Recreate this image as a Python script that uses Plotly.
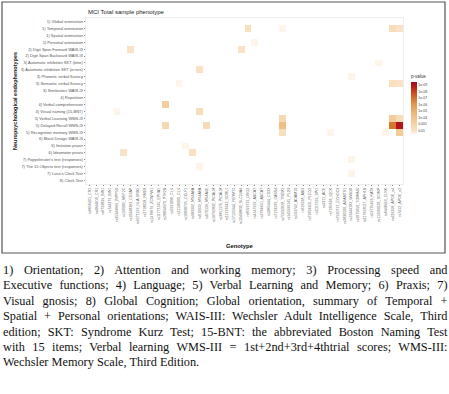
import math
import numpy as np
import plotly.graph_objects as go

# ---------------- data ----------------
phenotypes = [
    "1) Global orientation", "1) Temporal orientation", "1) Spatial orientation",
    "1) Personal orientation", "2) Digit Span Forward WAIS-III", "2) Digit Span Backward WAIS-III",
    "3) Automatic inhibition SKT (time)", "3) Automatic inhibition SKT (errors)",
    "3) Phonetic verbal fluency", "3) Semantic verbal fluency", "3) Similarities WAIS-III",
    "4) Repetition", "4) Verbal comprehension", "4) Visual naming (15-BNT)",
    "5) Verbal Learning WMS-III", "5) Delayed Recall WMS-III", "5) Recognition memory WMS-III",
    "6) Block Design WAIS-III", "6) Imitation praxis", "6) Ideomotor praxis",
    "7) Poppelreuter's test (responses)", "7) The 15 Objects test (responses)",
    "7) Luria's Clock Test", "8) Clock Test",
]

genotypes = [
    "rs6656401_CR1", "rs4844610_CR1", "rs6733839_BIN1", "rs744373_BIN1",
    "rs35349669_INPP5D", "rs190982_MEF2C", "rs10948363_CD2AP", "rs9271192_HLA-DRB5",
    "rs2718058_NME8", "rs1476679_ZCWPW1", "rs11771145_EPHA1", "rs28834970_PTK2B",
    "rs9331896_CLU", "rs11136000_CLU", "rs10838725_CELF1", "rs983392_MS4A6A",
    "rs610932_MS4A6A", "rs670139_MS4A4E", "rs10792832_PICALM", "rs3851179_PICALM",
    "rs11218343_SORL1", "rs17125944_FERMT2", "rs10498633_SLC24A4", "rs8093731_DSG2",
    "rs4147929_ABCA7", "rs3764650_ABCA7", "rs3865444_CD33", "rs7274581_CASS4",
    "rs75932628_TREM2", "rs145999145_PLD3", "rs593742_ADAM10", "rs616338_ABI3",
    "rs72824905_PLCG2", "rs1057233_SPI1", "rs4311_ACE", "rs7185636_IQCK",
    "rs7920721_ECHDC3", "rs2830500_ADAMTS1", "rs12444183_WWOX", "rs2075650_TOMM40",
    "rs117618017_APH1B", "rs59735493_KAT8", "rs113260531_SCIMP", "rs6448453_CLNK",
    "rs429358_APOE_e4", "rs7412_APOE_e2",
]

# significant associations: phenotype row index, genotype column index, p-value
sig_row = [1, 1, 1, 1, 3, 4, 4, 6, 7, 8, 9, 9, 9, 12, 13, 13, 14, 14, 14,
           15, 15, 15, 15, 15, 16, 16, 16, 16, 18, 19, 19, 20, 21, 22]
sig_col = [23, 28, 44, 45, 24, 6, 22, 42, 16, 38, 13, 44, 45, 11, 4, 16, 28, 44, 45,
           11, 17, 28, 44, 45, 28, 35, 43, 45, 14, 5, 15, 38, 16, 38]
sig_p = [0.006, 0.04, 0.004, 0.008, 0.04, 0.008, 0.008, 0.03, 0.007, 0.04, 0.04, 0.005, 0.009,
         4e-4, 0.04, 0.004, 0.002, 3e-4, 0.003,
         0.002, 0.003, 5e-5, 1e-7, 1e-9, 0.005, 0.04, 0.03, 3e-4, 0.03, 0.008, 0.006,
         0.04, 0.03, 0.04]

legend_exp = [2, 3, 4, 5, 6, 7, 8, 9]
legend_labels = ["0.01", "0.001", "1e-04", "1e-05", "1e-06", "1e-07", "1e-08", "1e-09"]

caption_lines = [
    "1) Orientation; 2) Attention and working memory; 3) Processing speed and",
    "Executive functions; 4) Language; 5) Verbal Learning and Memory; 6) Praxis; 7)",
    "Visual gnosis; 8) Global Cognition; Global orientation, summary of Temporal +",
    "Spatial + Personal orientations; WAIS-III: Wechsler Adult Intelligence Scale, Third",
    "edition; SKT: Syndrome Kurz Test; 15-BNT: the abbreviated Boston Naming Test",
    "with 15 items; Verbal learning WMS-III = 1st+2nd+3rd+4thtrial scores; WMS-III:",
    "Wechsler Memory Scale, Third Edition.",
]

# ---------------- build matrix ----------------
z = np.full((len(phenotypes), len(genotypes)), np.nan)
for r, c, p in zip(sig_row, sig_col, sig_p):
    z[r, c] = -math.log10(p)

W, H = 449, 394
ML, MR, MT, MB = 86, 46, 18, 210
PW, PH = W - ML - MR, H - MT - MB


def px(x):
    return (x - ML) / PW


def py(y):
    return (H - MB - y) / PH


zmin, zmax = 1.5, 9.5
stops = [(1.5, "#FEF5EA"), (2, "#F9E4C8"), (3, "#F5D4A8"), (4, "#F1C48C"), (5, "#EBB170"),
         (6, "#E29850"), (7, "#D37630"), (8, "#C4451C"), (9, "#B3141C"), (9.5, "#A50F15")]
cscale = [[(v - zmin) / (zmax - zmin), col] for v, col in stops]

font_sans = "Liberation Sans, Arial, sans-serif"
CAP_SIZE = 12.3

fig = go.Figure(go.Heatmap(
    z=z, x=genotypes, y=phenotypes,
    zmin=zmin, zmax=zmax, colorscale=cscale,
    hoverongaps=False,
    colorbar=dict(
        title=dict(text="p-value", side="top", font=dict(size=4.5, color="#333", family=font_sans)),
        tickmode="array", tickvals=legend_exp, ticktext=legend_labels,
        tickfont=dict(size=3.5, color="#444", family=font_sans),
        thickness=6, thicknessmode="pixels", len=62, lenmode="pixels",
        x=px(411), xanchor="left", xpad=0, y=py(103), yanchor="middle", ypad=0,
        outlinewidth=0, ticks="", ticklen=0,
    ),
))

fig.update_xaxes(
    type="category", tickmode="array", tickvals=genotypes, ticktext=genotypes,
    tickangle=-90, tickfont=dict(size=3.6, color="#666", family=font_sans),
    ticks="outside", ticklen=1.5, tickwidth=0.5, tickcolor="#888",
    showgrid=False, zeroline=False, showline=True, linecolor="#eeeeee", linewidth=0.6, mirror=True,
    automargin=False,
)
fig.update_yaxes(
    type="category", tickmode="array", tickvals=phenotypes, ticktext=phenotypes,
    autorange="reversed", tickfont=dict(size=4, color="#555", family=font_sans),
    ticks="outside", ticklen=1.5, tickwidth=0.5, tickcolor="#888",
    showgrid=False, zeroline=False, showline=True, linecolor="#eeeeee", linewidth=0.6, mirror=True,
    automargin=False,
)

annotations = [
    dict(text="MCI Total sample phenotype", x=px(86), y=py(12), xanchor="left", yanchor="middle",
         font=dict(size=6, color="#222", family=font_sans)),
    dict(text="<b>Genotype</b>", x=px(240), y=py(246), xanchor="center", yanchor="middle",
         font=dict(size=5.8, color="#111", family=font_sans)),
    dict(text="<b>Neuropsychological endophenotypes</b>", x=px(15), y=py(101), textangle=-90,
         xanchor="center", yanchor="middle", font=dict(size=5.5, color="#111", family=font_sans)),
]
for i, line in enumerate(caption_lines):
    annotations.append(dict(
        text=line, x=px(1), y=py(270 + i * 15.4), xanchor="left", yanchor="middle", align="left",
        font=dict(size=CAP_SIZE, color="#111", family="Liberation Serif, Times New Roman, serif"),
    ))
for a in annotations:
    a.update(xref="paper", yref="paper", showarrow=False)

fig.update_layout(
    width=W, height=H, margin=dict(l=ML, r=MR, t=MT, b=MB, pad=0),
    paper_bgcolor="white", plot_bgcolor="white",
    annotations=annotations,
    shapes=[dict(type="rect", xref="paper", yref="paper", x0=px(2), x1=px(445), y0=py(253), y1=py(2),
                 line=dict(color="#555", width=1.2), layer="below")],
    showlegend=False,
)

# page margin removal + justified caption lines (word-spacing on the real text)
post_js = """
document.body.style.margin='0';
var target = 444.5;
document.querySelectorAll('text.annotation-text').forEach(function(t){
  var fs = parseFloat(t.style.fontSize);
  if (Math.abs(fs - %s) > 0.01) return;
  var s = t.textContent;
  if (s.indexOf('Wechsler Memory Scale, Third Edition.') === 0) return;
  var n = (s.match(/ /g) || []).length;
  if (!n) return;
  var L = t.getComputedTextLength();
  var ws = (target - L) / n;
  if (ws > 0) t.style.wordSpacing = ws + 'px';
});
""" % CAP_SIZE

fig.write_html("out.html", post_script=post_js, config={"displayModeBar": False})
